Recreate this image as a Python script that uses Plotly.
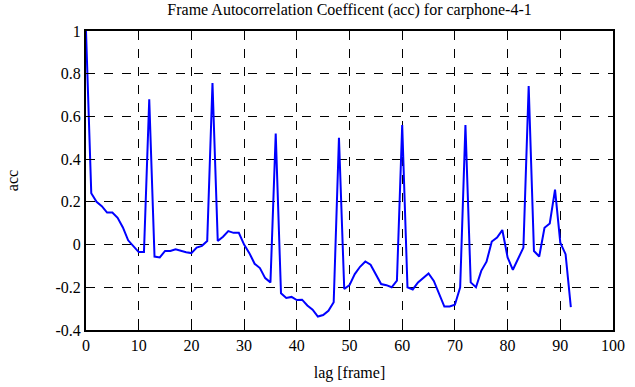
import plotly.graph_objects as go

lags = list(range(0, 93))
acc = [1.0, 0.24, 0.2, 0.18, 0.15, 0.15, 0.125, 0.08, 0.02, -0.006,
       -0.035, -0.035, 0.68, -0.056, -0.06, -0.03, -0.03, -0.022, -0.03, -0.036,
       -0.04, -0.014, -0.006, 0.017, 0.756, 0.017, 0.037, 0.063, 0.055, 0.055,
       0.0, -0.04, -0.09, -0.11, -0.157, -0.177, 0.52, -0.228, -0.25, -0.245,
       -0.26, -0.258, -0.285, -0.305, -0.337, -0.33, -0.31, -0.27, 0.50, -0.208,
       -0.19, -0.138, -0.104, -0.079, -0.094, -0.138, -0.185, -0.19, -0.2, -0.169,
       0.56, -0.2, -0.21, -0.177, -0.154, -0.135, -0.17, -0.231, -0.29, -0.29,
       -0.282, -0.2, 0.56, -0.177, -0.2, -0.123, -0.08, 0.014, 0.033, 0.068,
       -0.06, -0.118, -0.068, -0.014, 0.742, -0.03, -0.056, 0.079, 0.099, 0.257,
       0.009, -0.045, -0.293]

x_ticks = [0, 10, 20, 30, 40, 50, 60, 70, 80, 90, 100]
y_ticks = [-0.4, -0.2, 0, 0.2, 0.4, 0.6, 0.8, 1]
y_labels = ["-0.4", "-0.2", "0", "0.2", "0.4", "0.6", "0.8", "1"]

font = "Liberation Serif, Times New Roman, serif"
tfont = dict(family=font, size=16, color="black")

fig = go.Figure()
fig.add_trace(go.Scatter(x=lags, y=acc, mode="lines",
                         line=dict(color="#0000FF", width=2)))

axis_common = dict(showline=True, linecolor="black", linewidth=2, mirror="ticks",
                   ticks="inside", ticklen=5, tickcolor="black", tickwidth=1,
                   showgrid=True, gridcolor="black", gridwidth=1, griddash="dash",
                   zeroline=False, automargin=False,
                   tickfont=dict(family=font, size=16, color="black"))

fig.update_layout(
    width=635, height=387,
    margin=dict(l=86, r=22, t=31, b=57),
    paper_bgcolor="white", plot_bgcolor="white",
    font=dict(family=font, size=16, color="black"),
    showlegend=False,
    title=dict(text="Frame Autocorrelation Coefficent (acc) for carphone-4-1",
               x=0.5505, xanchor="center", y=0.975, yanchor="middle", font=tfont),
    xaxis=dict(range=[0, 100], tickvals=x_ticks,
               title=dict(text="lag [frame]", font=tfont, standoff=14),
               **axis_common),
    yaxis=dict(range=[-0.4, 1], tickvals=y_ticks, ticktext=y_labels,
               title=dict(text="acc", font=tfont, standoff=33),
               **axis_common),
)

fig.write_html("out.html", config={"displayModeBar": False},
               post_script="document.body.style.margin='0';document.body.style.overflow='hidden';")
